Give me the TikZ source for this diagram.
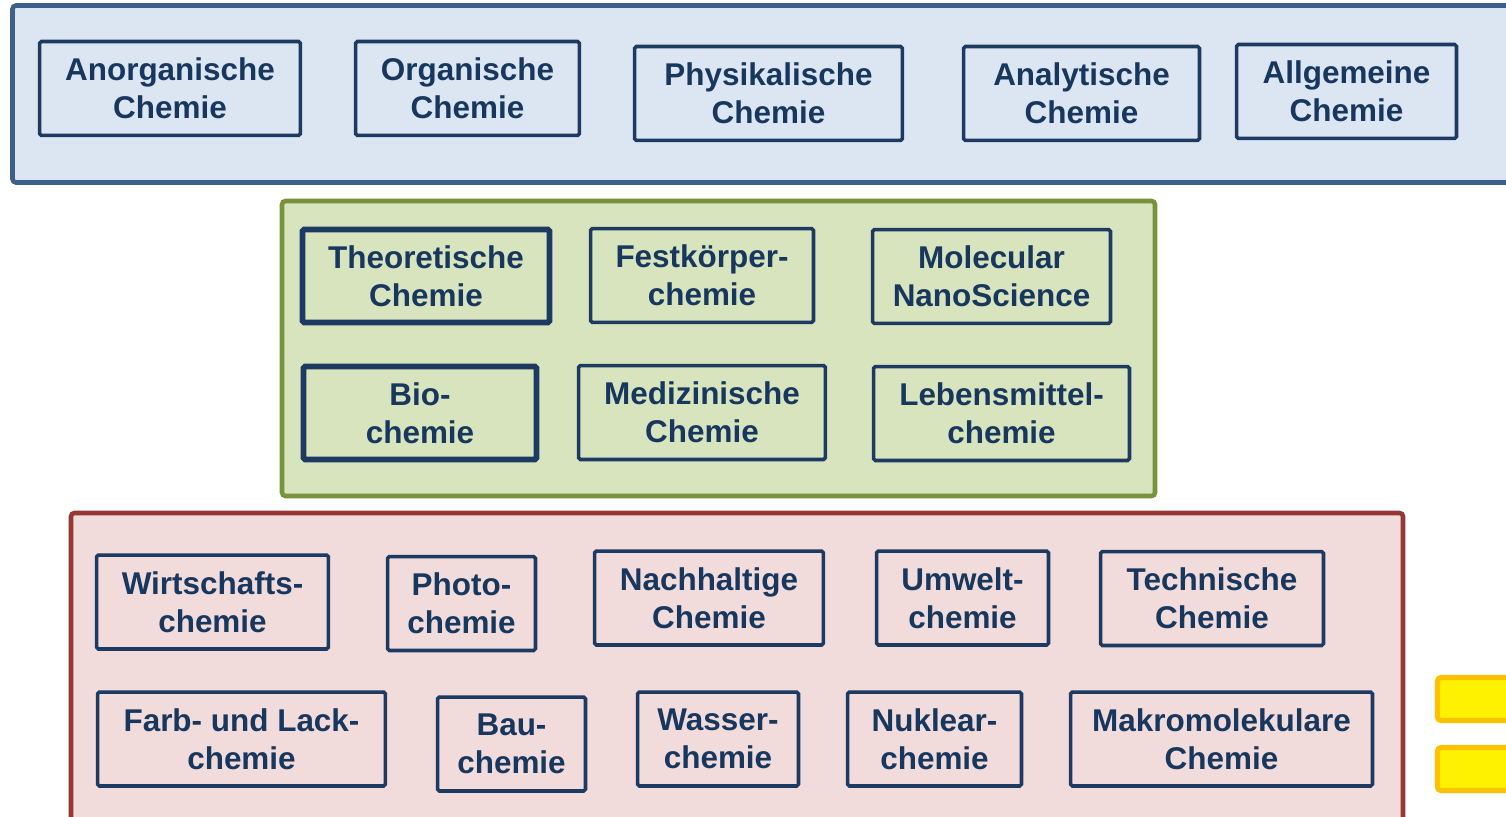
\documentclass[tikz,border=0pt]{standalone}
\usepackage{fontspec}
\setmainfont{Liberation Sans}
\usepackage{xcolor}
\definecolor{fachtext}{HTML}{17375E}
\definecolor{fachrand}{HTML}{1C3A62}
\definecolor{grundrand}{HTML}{3C5F8C}
\definecolor{grundfill}{HTML}{DCE6F2}
\definecolor{spezrand}{HTML}{77933C}
\definecolor{spezfill}{HTML}{D7E4BD}
\definecolor{angewrand}{HTML}{953735}
\definecolor{angewfill}{HTML}{F2DCDB}
\definecolor{gelbrand}{HTML}{FFC000}

\begin{document}
\begin{tikzpicture}[
  x=0.02cm, y=-0.02cm,
  bereich/.style={line width=2.6pt, rounded corners=2pt},
  fach/.style={
    draw=fachrand, line width=2pt, rounded corners=1pt,
    minimum height=1.88cm, inner sep=0pt, align=center,
    text=fachtext, font=\fontsize{17.9}{21.6}\selectfont\bfseries
  },
  kern/.style={fach, line width=3.3pt, minimum height=1.86cm},
  marker/.style={draw=gelbrand, fill=yellow, line width=2.9pt, rounded corners=2pt}
]
\useasboundingbox (0,0) rectangle (1506,817);
\clip (0,0) rectangle (1506,817);

% Bereiche
\draw[bereich, draw=grundrand, fill=grundfill] (12.5,5.5) rectangle (1525,182.5);
\draw[bereich, draw=spezrand, fill=spezfill] (282,201) rectangle (1155,496);
\draw[bereich, draw=angewrand, fill=angewfill] (71,513) rectangle (1403,840);
\draw[marker] (1437.5,677.5) rectangle (1525,720.5);
\draw[marker] (1437.5,747.5) rectangle (1525,790.5);

% Grundlagenfaecher
\node[fach, minimum width=5.22cm] (anorg) at (170, 88.5) {Anorganische\\Chemie};
\node[fach, minimum width=4.48cm] (org) at (467.5, 88.5) {Organische\\Chemie};
\node[fach, minimum width=5.36cm] (phys) at (768.5, 93.5) {Physikalische\\Chemie};
\node[fach, minimum width=4.72cm] (analyt) at (1081.5, 93.5) {Analytische\\Chemie};
\node[fach, minimum width=4.40cm] (allg) at (1346.5, 91.5) {Allgemeine\\Chemie};

% Spezialisierungen
\node[kern, minimum width=4.94cm] (theo) at (426, 276) {Theoretische\\Chemie};
\node[fach, minimum width=4.46cm] (fest) at (702, 275.5) {Festkörper-\\chemie};
\node[fach, minimum width=4.76cm] (nano) at (991.5, 276.5) {Molecular\\NanoScience};
\node[kern, minimum width=4.66cm] (bio) at (420, 413) {Bio-\\chemie};
\node[fach, minimum width=4.94cm] (medi) at (702, 412.5) {Medizinische\\Chemie};
\node[fach, minimum width=5.12cm] (leben) at (1001.5, 413.5) {Lebensmittel-\\chemie};

% Angewandte Faecher
\node[fach, minimum width=4.64cm] (wirt) at (212.5, 602) {Wirtschafts-\\chemie};
\node[fach, minimum width=2.96cm] (photo) at (461.5, 603.5) {Photo-\\chemie};
\node[fach, minimum width=4.58cm] (nach) at (709, 598) {Nachhaltige\\Chemie};
\node[fach, minimum width=3.44cm] (umwelt) at (962.5, 598) {Umwelt-\\chemie};
\node[fach, minimum width=4.46cm] (tech) at (1212, 598.5) {Technische\\Chemie};
\node[fach, minimum width=5.76cm] (farb) at (241.5, 739) {Farb- und Lack-\\chemie};
\node[fach, minimum width=2.96cm] (bau) at (511.5, 744) {Bau-\\chemie};
\node[fach, minimum width=3.22cm] (wasser) at (718, 739) {Wasser-\\chemie};
\node[fach, minimum width=3.48cm] (nuklear) at (934.5, 739) {Nuklear-\\chemie};
\node[fach, minimum width=6.04cm] (makro) at (1221.5, 739) {Makromolekulare\\Chemie};

\end{tikzpicture}
\end{document}
